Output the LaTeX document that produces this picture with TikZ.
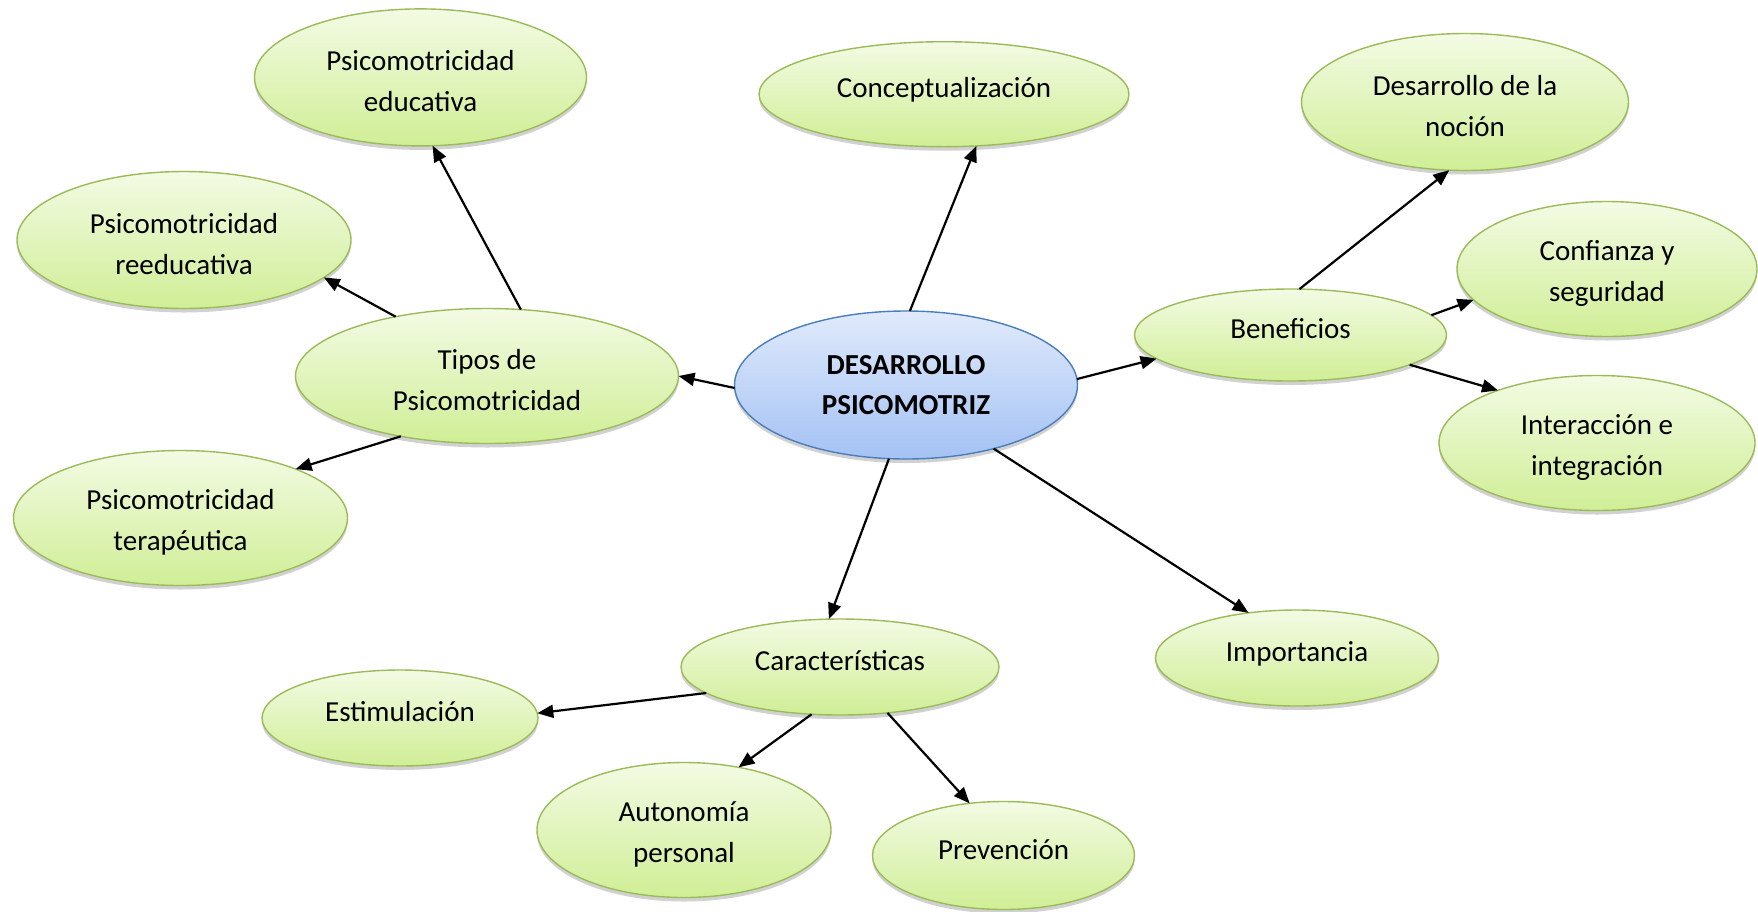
\documentclass[tikz,border=0pt]{standalone}
\usepackage{fontspec}
\setmainfont{Carlito}
\usetikzlibrary{shapes.geometric,arrows.meta,shadows}
\definecolor{gborder}{RGB}{155,187,89}
\definecolor{gtop}{RGB}{243,251,228}
\definecolor{gbot}{RGB}{208,238,150}
\definecolor{bborder}{RGB}{74,126,187}
\definecolor{btop}{RGB}{224,234,251}
\definecolor{bbot}{RGB}{164,194,244}
\newcommand{\tallfirst}{\rule{0pt}{28pt}}
\tikzset{
  bubble/.style={ellipse, draw=gborder, line width=1.4pt, top color=gtop, bottom color=gbot,
    inner sep=0pt, outer sep=0pt, align=center, font=\fontsize{29}{41}\selectfont,
    drop shadow={shadow xshift=0pt, shadow yshift=-4pt, opacity=0.18, fill=black}},
  single/.style={bubble, text height=21pt, text depth=14pt},
  hub/.style={bubble, draw=bborder, top color=btop, bottom color=bbot,
    font=\bfseries\fontsize{29}{40}\selectfont},
  arr/.style={line width=2.2pt, -{Triangle[length=16pt,width=13pt]}}
}
\begin{document}
\begin{tikzpicture}[x=1pt,y=-1pt]
\useasboundingbox (0,0) rectangle (1758,911);
\node[bubble, minimum width=332pt, minimum height=137pt] (educ) at (420.5,77.4) {\tallfirst Psicomotricidad\\educativa};
\node[single, minimum width=370pt, minimum height=105pt] (concept) at (944,94.2) {Conceptualización};
\node[bubble, minimum width=327pt, minimum height=137pt] (nocion) at (1465,102) {\tallfirst Desarrollo de la\\noción};
\node[bubble, minimum width=334pt, minimum height=137pt] (reeduc) at (184,240) {\tallfirst Psicomotricidad\\reeducativa};
\node[bubble, minimum width=300pt, minimum height=135pt] (confianza) at (1607,269) {\tallfirst Confianza y\\seguridad};
\node[bubble, minimum width=383pt, minimum height=135pt] (tipos) at (487,376) {\tallfirst Tipos de\\Psicomotricidad};
\node[hub, minimum width=343pt, minimum height=148pt] (hub) at (906,385) {DESARROLLO\\PSICOMOTRIZ};
\node[single, minimum width=312pt, minimum height=92pt] (benef) at (1290.5,335) {Beneficios};
\node[bubble, minimum width=316pt, minimum height=135pt] (interac) at (1597,443) {\tallfirst Interacción e\\integración};
\node[bubble, minimum width=334pt, minimum height=135pt] (terap) at (180.5,518) {\tallfirst Psicomotricidad\\terapéutica};
\node[single, minimum width=318pt, minimum height=96pt] (caract) at (840,667) {Características};
\node[single, minimum width=283pt, minimum height=96pt] (import) at (1297,658) {Importancia};
\node[single, minimum width=276pt, minimum height=96pt] (estim) at (400,718) {Estimulación};
\node[bubble, minimum width=294pt, minimum height=135pt] (auton) at (684,830) {\tallfirst Autonomía\\personal};
\node[single, minimum width=262pt, minimum height=108pt] (prev) at (1003.5,855.5) {Prevención};

\draw[arr] (hub.87.5) -- (concept.-58);
\draw[arr] (hub.181) -- (tipos.0);
\draw[arr] (hub.2.6) -- (benef.190);
\draw[arr] (hub.257.5) -- (caract.103.7);
\draw[arr] (hub.-36.4) -- (import.137);
\draw[arr] (tipos.63) -- (educ.-80.2);
\draw[arr] (tipos.147.4) -- (reeduc.-15.2);
\draw[arr] (tipos.215.5) -- (terap.23.9);
\draw[arr] (benef.79.3) -- (nocion.257.1);
\draw[arr] (benef.8.1) -- (confianza.193.6);
\draw[arr] (benef.-14.3) -- (interac.152.4);
\draw[arr] (caract.191.4) -- (estim.2.7);
\draw[arr] (caract.239.2) -- (auton.49.6);
\draw[arr] (caract.-44.3) -- (prev.123.7);
\end{tikzpicture}
\end{document}
